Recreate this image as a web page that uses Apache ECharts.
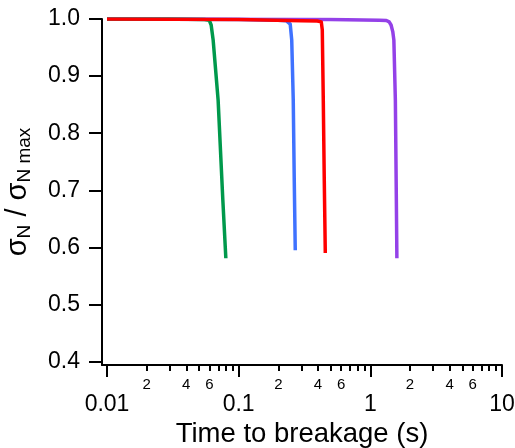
<!DOCTYPE html>
<html>
<head>
<meta charset="utf-8">
<script src="https://cdn.jsdelivr.net/npm/echarts@6/dist/echarts.min.js"></script>
<style>html,body{margin:0;padding:0;background:#fff}#c{width:515px;height:448px}</style>
</head>
<body>
<div id="c"></div>
<script>
// ---- data (time in s, normalized stress) ----
var greenT = [0.01, 0.03, 0.055, 0.0597, 0.0618, 0.064, 0.0698, 0.0758, 0.0799];
var greenV = [1.0, 1.0, 0.999, 0.998, 0.9895, 0.963, 0.858, 0.683, 0.581];
var blueT = [0.01, 0.1, 0.2, 0.2297, 0.2463, 0.2529, 0.2597, 0.2643, 0.269];
var blueV = [1.0, 0.999, 0.998, 0.997, 0.991, 0.963, 0.858, 0.718, 0.595];
var redT = [0.01, 0.1, 0.3, 0.3954, 0.424, 0.4315, 0.4391, 0.4468, 0.4548];
var redV = [1.0, 0.999, 0.997, 0.9965, 0.995, 0.981, 0.858, 0.718, 0.59];
var purpleT = [0.01, 0.1, 0.5, 1.171, 1.3236, 1.39, 1.437, 1.48, 1.509, 1.549, 1.576, 1.591];
var purpleV = [1.0, 0.9995, 0.999, 0.998, 0.9974, 0.995, 0.9895, 0.978, 0.963, 0.858, 0.683, 0.581];
var yTicks = [0.4, 0.5, 0.6, 0.7, 0.8, 0.9, 1.0];
var xMajor = [0.01, 0.1, 1, 10];
var xMinor = [0.02,0.03,0.04,0.05,0.06,0.07,0.08,0.09,0.2,0.3,0.4,0.5,0.6,0.7,0.8,0.9,2,3,4,5,6,7,8,9];
var xMinorLabels = [0.02, 0.04, 0.06, 0.2, 0.4, 0.6, 2, 4, 6];

function pairs(t, v) { return t.map(function (x, i) { return [x, v[i]]; }); }
var FONT = 'Liberation Sans';
var chart = echarts.init(document.getElementById('c'));
function line(name, t, v, color) {
  return { name: name, type: 'line', xAxisIndex: 0, data: pairs(t, v), showSymbol: false, symbol: 'none',
    lineStyle: { color: color, width: 3.5, join: 'round', cap: 'butt' }, itemStyle: { color: color }, animation: false };
}
chart.setOption({
  animation: false,
  grid: { left: 102, right: 13, top: 19, bottom: 83, containLabel: false, outerBoundsMode: 'none' },
  xAxis: [{
    type: 'log', logBase: 10, min: 0.00916, max: 10,
    name: 'Time to breakage (s)', nameLocation: 'middle', nameGap: 50,
    nameTextStyle: { fontFamily: FONT, fontSize: 27.5, color: '#000' },
    axisLine: { show: true, onZero: false, lineStyle: { color: '#000', width: 2 } },
    axisTick: { show: true, inside: false, length: 12, lineStyle: { color: '#000', width: 2 }, customValues: xMajor },
    axisLabel: { fontFamily: FONT, fontSize: 23, color: '#000', margin: 28, customValues: xMajor,
      formatter: function (v) { var e = Math.round(Math.log10(v)); return e >= 0 ? String(Math.pow(10, e)) : Math.pow(10, e).toFixed(-e); } },
    splitLine: { show: false }, minorTick: { show: false }
  }, {
    type: 'log', logBase: 10, min: 0.00916, max: 10, position: 'bottom',
    axisLine: { show: false },
    axisTick: { show: true, inside: false, length: 6, lineStyle: { color: '#000', width: 2 }, customValues: xMinor },
    axisLabel: { fontFamily: FONT, fontSize: 15, color: '#000', margin: 12, customValues: xMinorLabels,
      formatter: function (v) { var e = Math.floor(Math.log10(v) + 1e-9); return String(Math.round(v / Math.pow(10, e))); } },
    splitLine: { show: false }
  }],
  yAxis: {
    type: 'value', min: 0.394, max: 1.0,
    name: '{a|σ}{s|N}{a| / σ}{s|N max}', nameLocation: 'middle', nameGap: 68,
    nameTextStyle: { fontFamily: FONT, color: '#000',
      rich: { a: { fontFamily: FONT, fontSize: 29, color: '#000' },
              s: { fontFamily: FONT, fontSize: 19, color: '#000', padding: [14, 0, 0, 0] } } },
    axisLine: { show: true, onZero: false, lineStyle: { color: '#000', width: 2 } },
    axisTick: { show: true, inside: false, length: 13, lineStyle: { color: '#000', width: 2 }, customValues: yTicks },
    axisLabel: { fontFamily: FONT, fontSize: 23, color: '#000', margin: 22, customValues: yTicks,
      formatter: function (v) { return v.toFixed(1); } },
    splitLine: { show: false }
  },
  series: [
    line('purple', purpleT, purpleV, '#9441e8'),
    line('blue', blueT, blueV, '#3f72ff'),
    line('green', greenT, greenV, '#00994c'),
    line('red', redT, redV, '#ff0000')
  ]
});
</script>
</body>
</html>
